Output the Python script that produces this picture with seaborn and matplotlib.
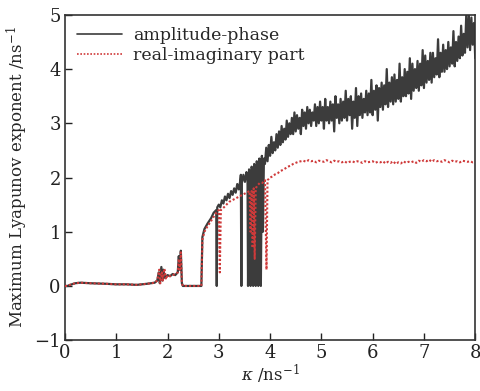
import numpy as np
import pandas as pd
import matplotlib
matplotlib.use("Agg")
import matplotlib.pyplot as plt
import seaborn as sns

# --- low-coupling part (kappa < 3.9) ---
AP_X_LOW = [0.0, 0.05, 0.1, 0.2, 0.3, 0.5, 0.8, 1.0, 1.2, 1.4, 1.6, 1.75, 1.8, 1.83, 1.85,
            1.88, 1.9, 1.92, 1.95, 2.0, 2.05, 2.1, 2.15, 2.2, 2.22, 2.24, 2.26, 2.28, 2.3, 2.5,
            2.66, 2.68, 2.72, 2.78, 2.85, 2.9, 2.95, 2.96, 2.97,
            3.0, 3.03, 3.06, 3.09, 3.12, 3.15, 3.18, 3.21, 3.24, 3.27, 3.3, 3.33, 3.36, 3.39,
            3.42, 3.43, 3.44, 3.45, 3.48, 3.51, 3.54, 3.56, 3.57, 3.59, 3.61, 3.62, 3.64,
            3.66, 3.67, 3.69, 3.71, 3.72, 3.74, 3.76, 3.77, 3.79, 3.81, 3.82, 3.84, 3.86, 3.88]
AP_Y_LOW = [0.0, 0.0, 0.02, 0.05, 0.06, 0.05, 0.04, 0.03, 0.03, 0.02, 0.04, 0.06, 0.1, 0.25, 0.05,
            0.35, 0.1, 0.3, 0.15, 0.2, 0.18, 0.22, 0.2, 0.25, 0.55, 0.3, 0.65, 0.05, 0.0, 0.0,
            0.0, 0.9, 1.05, 1.15, 1.25, 1.35, 1.4, 0.0, 1.45,
            1.5, 1.45, 1.58, 1.52, 1.65, 1.58, 1.7, 1.62, 1.75, 1.68, 1.8, 1.72, 1.88, 1.78,
            1.95, 2.05, 0.0, 1.9, 2.05, 1.92, 2.1, 2.0, 0.0, 2.15, 2.02, 0.0, 2.2,
            2.05, 0.0, 2.25, 2.1, 0.0, 2.3, 2.12, 0.0, 2.35, 2.2, 0.0, 2.4, 1.0, 2.35]

# --- amplitude-phase chaotic band, kappa 3.9 .. 8.0 (step 0.025) ---
AP_Y_HIGH = [
    2.25, 2.55, 2.3, 2.6, 2.4, 2.75, 2.45, 2.65, 2.5, 2.8,
    2.55, 2.85, 2.6, 2.95, 2.65, 2.9, 2.7, 3.05, 2.75, 3.0,
    2.8, 3.1, 2.8, 3.2, 2.85, 3.15, 2.9, 3.1, 2.8, 3.25,
    2.95, 3.2, 2.9, 3.3, 3.0, 3.25, 2.95, 3.2, 3.05, 3.35,
    2.95, 3.3, 3.0, 3.4, 3.05, 3.3, 2.9, 3.45, 3.05, 3.3,
    3.0, 3.4, 3.05, 3.35, 2.85, 3.5, 3.1, 3.35, 3.0, 3.45,
    3.05, 3.4, 3.1, 3.6, 3.05, 3.45, 3.15, 3.5, 2.9, 3.4,
    3.1, 3.65, 2.95, 3.5, 3.15, 3.55, 3.1, 3.45, 3.2, 3.6,
    3.15, 3.55, 3.2, 3.8, 3.15, 3.6, 3.25, 3.7, 3.05, 3.65,
    3.3, 3.75, 3.25, 3.7, 3.35, 4.0, 3.3, 3.75, 3.4, 3.85,
    3.35, 3.9, 3.4, 3.8, 3.45, 4.1, 3.4, 3.85, 3.5, 4.0,
    3.5, 3.95, 3.55, 4.2, 3.45, 4.1, 3.6, 4.0, 3.65, 4.15,
    3.6, 4.1, 3.7, 4.35, 3.65, 4.25, 3.75, 4.15, 3.8, 4.3,
    3.75, 4.3, 3.85, 4.2, 3.9, 4.55, 3.85, 4.3, 3.95, 4.45,
    3.95, 4.35, 4.0, 4.5, 4.05, 4.4, 4.1, 4.7, 4.05, 4.5,
    4.15, 4.6, 4.2, 4.8, 4.25, 4.65, 4.3, 5.0, 4.4, 5.0,
    4.35, 4.95, 4.45, 4.85, 4.2,
]

# --- real-imaginary part ---
RI_X_LOW = [0.0, 0.05, 0.1, 0.2, 0.3, 0.5, 0.8, 1.0, 1.2, 1.4, 1.6, 1.75, 1.8, 1.84, 1.86,
            1.89, 1.91, 1.94, 1.97, 2.0, 2.05, 2.1, 2.15, 2.2, 2.22, 2.24, 2.26, 2.28, 2.3, 2.5,
            2.66, 2.68, 2.72, 2.78, 2.85, 2.95, 3.0, 3.02, 3.04, 3.1, 3.2, 3.3, 3.4, 3.5, 3.6,
            3.62, 3.64, 3.66, 3.68, 3.7, 3.72, 3.75, 3.8, 3.85, 3.9, 3.93, 3.95, 4.0]
RI_Y_LOW = [0.0, 0.0, 0.02, 0.05, 0.06, 0.05, 0.04, 0.03, 0.03, 0.02, 0.04, 0.06, 0.1, 0.3, 0.05,
            0.25, 0.1, 0.32, 0.12, 0.2, 0.18, 0.2, 0.22, 0.25, 0.5, 0.3, 0.62, 0.05, 0.0, 0.0,
            0.0, 0.85, 1.0, 1.1, 1.2, 1.35, 1.4, 0.25, 1.4, 1.45, 1.55, 1.6, 1.65, 1.7, 1.75,
            1.0, 1.75, 0.7, 1.8, 0.5, 1.8, 1.85, 1.9, 1.9, 1.95, 0.3, 1.95, 2.0]
# kappa 4.05 .. 8.0 (step 0.05)
RI_Y_HIGH = [
    2.02, 2.06, 2.08, 2.12, 2.14, 2.17, 2.2, 2.22, 2.25, 2.27, 2.29, 2.3,
    2.31, 2.29, 2.32, 2.3, 2.31, 2.28, 2.31, 2.3, 2.29, 2.32, 2.3, 2.28, 2.31, 2.29,
    2.3, 2.28, 2.3, 2.27, 2.29, 2.3, 2.28, 2.3, 2.29, 2.27, 2.3, 2.28, 2.29, 2.3,
    2.27, 2.29, 2.28, 2.3, 2.26, 2.29, 2.27, 2.3, 2.25, 2.28, 2.26, 2.3, 2.27, 2.29,
    2.28, 2.3, 2.27, 2.31, 2.29, 2.32, 2.3, 2.33, 2.29, 2.32, 2.3, 2.31, 2.29, 2.32,
    2.3, 2.28, 2.31, 2.29, 2.3, 2.28, 2.31, 2.3, 2.29, 2.3, 2.28, 2.29,
]

ap = pd.DataFrame({
    "k": AP_X_LOW + list(np.linspace(3.9, 8.0, len(AP_Y_HIGH))),
    "L": AP_Y_LOW + AP_Y_HIGH,
})
ri = pd.DataFrame({
    "k": RI_X_LOW + list(np.linspace(4.05, 8.0, len(RI_Y_HIGH))),
    "L": RI_Y_LOW + RI_Y_HIGH,
})

sns.set_style("ticks")
plt.rcParams["font.family"] = ["DejaVu Serif"]
plt.rcParams["mathtext.fontset"] = "dejavuserif"

fig = plt.figure(figsize=(4.81, 3.91), dpi=100)
ax = fig.add_axes([0.135, 0.13, 0.853, 0.832])

sns.lineplot(data=ap, x="k", y="L", sort=False, estimator=None, ax=ax,
             color="#3c3c3c", linewidth=1.6, label="amplitude-phase", zorder=2)
sns.lineplot(data=ri, x="k", y="L", sort=False, estimator=None, ax=ax,
             color="#cf3a3a", linewidth=1.5, linestyle=(0, (1, 1)),
             label="real-imaginary part", zorder=3)

ax.set_xlim(0, 8)
ax.set_ylim(-1, 5)
ax.set_xticks(range(0, 9))
ax.set_yticks(range(-1, 6))
ax.set_xlabel(r"$\kappa$ /ns$^{-1}$", fontsize=12, labelpad=0)
ax.set_ylabel(r"Maximum Lyapunov exponent /ns$^{-1}$", fontsize=12, labelpad=3)
ax.tick_params(direction="in", length=5, width=1, labelsize=13, pad=3,
               top=False, right=False, colors="#222222")
for s in ax.spines.values():
    s.set_linewidth(1.2)
    s.set_color("#333333")

leg = ax.legend(loc="upper left", frameon=False, fontsize=12.5, handlelength=2.6,
                borderaxespad=0.3, labelspacing=0.15, handletextpad=0.6)
for h in leg.get_lines():
    h.set_linewidth(1.2)

fig.savefig("out.png", dpi=100)
